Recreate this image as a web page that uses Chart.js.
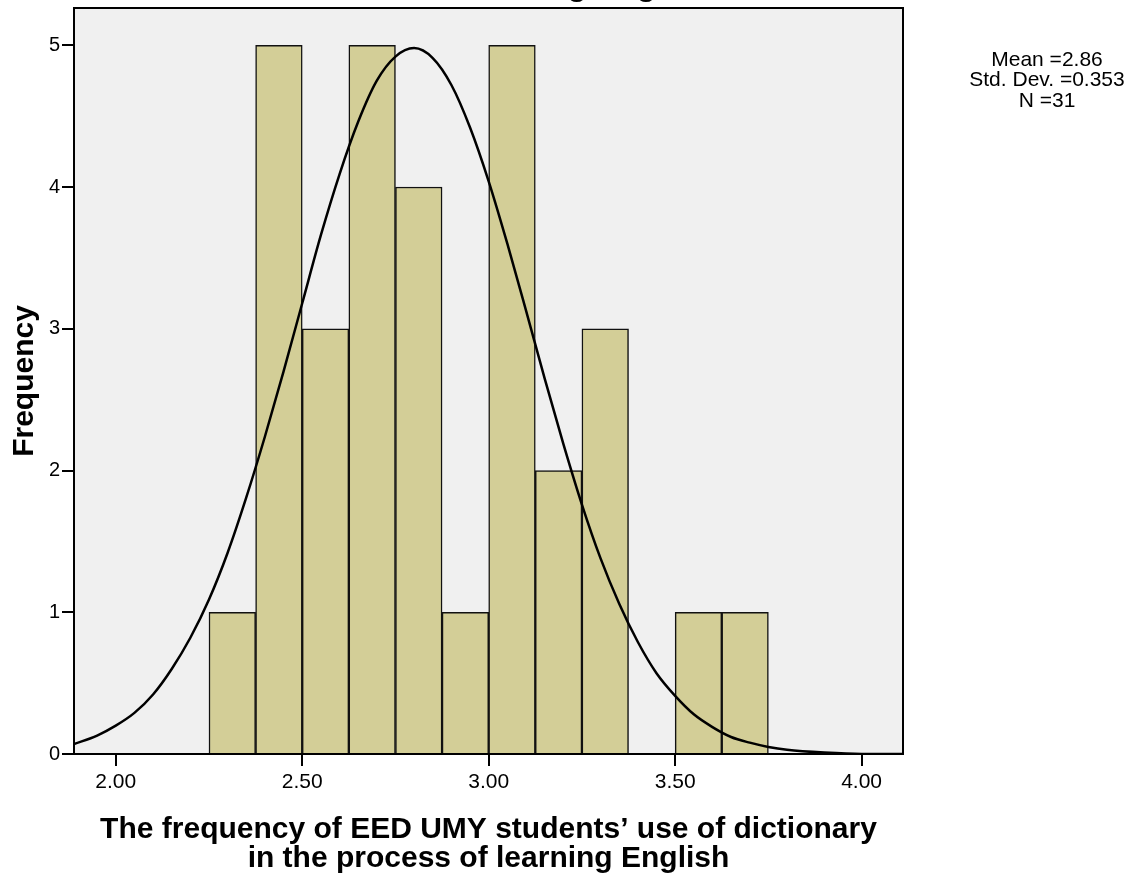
<!DOCTYPE html>
<html>
<head>
<meta charset="utf-8">
<script src="https://cdn.jsdelivr.net/npm/chart.js@4"></script>
<style>
  html, body { margin: 0; padding: 0; background: #fff; }
  #wrap { width: 1134px; height: 876px; position: relative; }
</style>
</head>
<body>
<div id="wrap"><canvas id="hist"></canvas></div>
<script>
// histogram bins (lower edge) and counts
const binStart = [2.25, 2.375, 2.5, 2.625, 2.75, 2.875, 3.0, 3.125, 3.25, 3.375, 3.5, 3.625];
const binWidth = 0.125;
const frequency = [1, 5, 3, 5, 4, 1, 5, 2, 3, 0, 1, 1];

// normal curve
const curveX = [1.888, 1.95, 2.00, 2.05, 2.10, 2.15, 2.20, 2.25, 2.30, 2.35, 2.40, 2.45, 2.50, 2.55, 2.60,
  2.65, 2.70, 2.75, 2.80, 2.85, 2.90, 2.95, 3.00, 3.05, 3.10, 3.15, 3.20, 3.25, 3.30, 3.35, 3.40,
  3.45, 3.50, 3.55, 3.60, 3.65, 3.70, 3.75, 3.80, 3.90, 4.00, 4.111];
const curveY = [0.07, 0.13, 0.20, 0.29, 0.42, 0.60, 0.82, 1.09, 1.42, 1.81, 2.24, 2.70, 3.18, 3.66, 4.09,
  4.46, 4.75, 4.92, 4.98, 4.91, 4.72, 4.42, 4.04, 3.60, 3.13, 2.65, 2.19, 1.76, 1.38, 1.06, 0.79,
  0.57, 0.41, 0.28, 0.19, 0.12, 0.08, 0.05, 0.03, 0.01, 0.00, 0.00];

const xTicks = [2.0, 2.5, 3.0, 3.5, 4.0];
const yTicks = [0, 1, 2, 3, 4, 5];
const xRange = [1.888, 4.111];
const yRange = [0, 5.263];

const xTitle = ['The frequency of EED UMY students\u2019 use of dictionary', 'in the process of learning English'];
const yTitle = 'Frequency';
const statsLines = ['Mean =2.86', 'Std. Dev. =0.353', 'N =31'];

const FONT = '"Liberation Sans", Arial, sans-serif';

const frame = {
  id: 'frame',
  beforeDraw(chart) {
    const { ctx, chartArea: a } = chart;
    ctx.save();
    ctx.fillStyle = '#f0f0f0';
    ctx.fillRect(a.left, a.top, a.right - a.left, a.bottom - a.top);
    ctx.restore();
  },
  afterDraw(chart) {
    const { ctx, chartArea: a } = chart;
    ctx.save();
    ctx.strokeStyle = '#000';
    ctx.lineWidth = 2;
    ctx.strokeRect(a.left, a.top, a.right - a.left, a.bottom - a.top);

    // chart title sits above the crop, only the tails of "learning English" show
    ctx.fillStyle = '#000';
    ctx.font = 'bold 32px ' + FONT;
    ctx.textAlign = 'left';
    ctx.textBaseline = 'alphabetic';
    const x0 = 577 - ctx.measureText('learnin').width - ctx.measureText('g').width / 2;
    ctx.fillText('learning English', x0, -5);

    // stats box
    ctx.font = '21px ' + FONT;
    ctx.textAlign = 'center';
    ctx.textBaseline = 'middle';
    statsLines.forEach((s, i) => ctx.fillText(s, 1047, 60 + i * 20.5));
    ctx.restore();
  }
};

new Chart(document.getElementById('hist'), {
  type: 'bar',
  data: {
    datasets: [
      {
        type: 'line',
        data: curveX.map((x, i) => ({ x: x, y: curveY[i] })),
        borderColor: '#000',
        borderWidth: 2.5,
        pointRadius: 0,
        cubicInterpolationMode: 'monotone',
        fill: false,
        order: 0
      },
      {
        type: 'bar',
        data: binStart.map((s, i) => ({ x: s + binWidth / 2, y: frequency[i] })),
        backgroundColor: '#d3ce97',
        borderColor: '#111',
        borderWidth: 1.5,
        barPercentage: 1,
        categoryPercentage: 1,
        order: 1
      }
    ]
  },
  options: {
    responsive: true,
    maintainAspectRatio: false,
    animation: false,
    events: [],
    layout: { padding: { top: 8, right: 231, left: 0, bottom: 0 } },
    plugins: { legend: { display: false }, tooltip: { enabled: false } },
    scales: {
      x: {
        type: 'linear',
        offset: false,
        min: xRange[0],
        max: xRange[1],
        afterBuildTicks: s => { s.ticks = xTicks.map(v => ({ value: v })); },
        afterFit: s => { s.height = 122; s.paddingLeft = 0; s.paddingRight = 0; },
        ticks: {
          callback: v => Number(v).toFixed(2),
          color: '#000',
          font: { family: FONT, size: 21 },
          padding: 4,
          maxRotation: 0,
          autoSkip: false
        },
        grid: { drawOnChartArea: false, offset: false, tickLength: 12, color: '#000', lineWidth: 2 },
        border: { display: true, color: '#000', width: 2 },
        title: {
          display: true,
          text: xTitle,
          color: '#000',
          font: { family: FONT, size: 30, weight: 'bold', lineHeight: 0.97 },
          padding: { top: 0, bottom: 3 }
        }
      },
      y: {
        type: 'linear',
        min: yRange[0],
        max: yRange[1],
        afterBuildTicks: s => { s.ticks = yTicks.map(v => ({ value: v })); },
        afterFit: s => { s.width = 74; s.paddingTop = 0; s.paddingBottom = 0; },
        ticks: {
          color: '#000',
          font: { family: FONT, size: 20 },
          padding: 2
        },
        grid: { drawOnChartArea: false, offset: false, tickLength: 12, color: '#000', lineWidth: 2 },
        border: { display: true, color: '#000', width: 2 },
        title: {
          display: true,
          text: yTitle,
          color: '#000',
          font: { family: FONT, size: 30, weight: 'bold', lineHeight: 1.1 },
          padding: { top: 8, bottom: 0 }
        }
      }
    }
  },
  plugins: [frame]
});
</script>
</body>
</html>
